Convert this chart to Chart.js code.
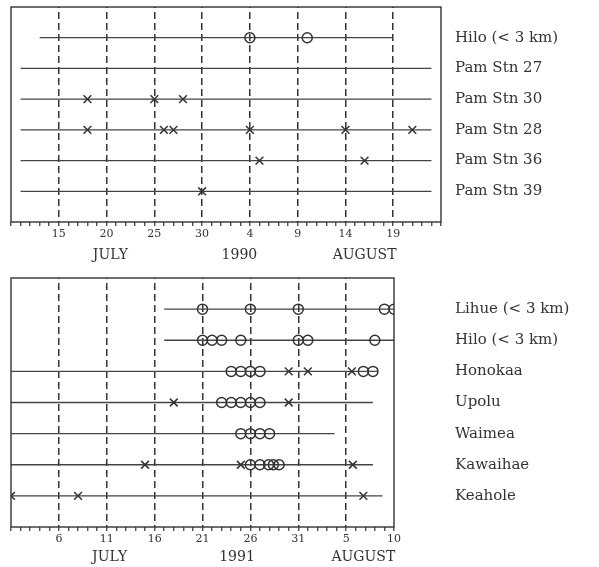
<!DOCTYPE html>
<html>
<head>
<meta charset="utf-8">
<script src="https://cdn.jsdelivr.net/npm/chart.js@4.4.1/dist/chart.umd.min.js"></script>
<style>
  body { margin: 0; background: #fff; }
  .panel { position: absolute; left: 0; width: 599px; }
  #top { top: 0; height: 270px; }
  #bot { top: 270px; height: 297px; }
</style>
</head>
<body>
<div class="panel" id="top"><canvas id="c1"></canvas></div>
<div class="panel" id="bot"><canvas id="c2"></canvas></div>
<script>
// days are counted from July 1 = 1 (so August 1 = 32)
var stations1990 = ['Hilo (< 3 km)', 'Pam Stn 27', 'Pam Stn 30', 'Pam Stn 28', 'Pam Stn 36', 'Pam Stn 39'];
var spans1990 = [[13, 50], [11, 54], [11, 54], [11, 54], [11, 54], [11, 54]];
var circles1990 = [[35, 41], [], [], [], [], []];
var crosses1990 = [[], [], [18, 25, 28], [18, 26, 27, 35, 45, 52], [36, 47], [30]];
var months1990 = ['JULY', '1990', 'AUGUST'];

var stations1991 = ['Lihue (< 3 km)', 'Hilo (< 3 km)', 'Honokaa', 'Upolu', 'Waimea', 'Kawaihae', 'Keahole'];
var spans1991 = [[17, 41], [17, 41], [1, 39.3], [1, 38.8], [1, 34.8], [1, 38.8], [1, 39.8]];
var circles1991 = [[21, 26, 31, 40, 41], [21, 22, 23, 25, 31, 32, 39], [24, 25, 26, 27, 37.8, 38.8],
                   [23, 24, 25, 26, 27], [25, 26, 27, 28], [26, 27, 27.9, 28.4, 29], []];
var crosses1991 = [[], [], [30, 32, 36.6], [18, 30], [], [15, 25, 36.7], [1, 8, 37.8]];
var months1991 = ['JULY', '1991', 'AUGUST'];

var ink = '#333333';
var serif = '"DejaVu Serif", "Liberation Serif", serif';

function dayOfMonth(v) {
  return v > 31 ? v - 31 : v;
}

function points(rows) {
  var out = [];
  rows.forEach(function (days, i) {
    days.forEach(function (d) { out.push({x: d, y: i + 1}); });
  });
  return out;
}

// box around the plot + month / year captions under the axis
var framePlugin = {
  id: 'frame',
  afterDraw: function (chart, args, opts) {
    var a = chart.chartArea, ctx = chart.ctx, xs = chart.scales.x;
    ctx.save();
    ctx.strokeStyle = ink;
    ctx.lineWidth = 1.4;
    ctx.strokeRect(a.left, a.top, a.right - a.left, a.bottom - a.top);
    ctx.fillStyle = ink;
    ctx.font = '14px ' + serif;
    ctx.textAlign = 'center';
    ctx.textBaseline = 'middle';
    opts.labels.forEach(function (t, i) {
      ctx.fillText(t, xs.getPixelForValue(opts.at[i]), a.bottom + opts.dy);
    });
    ctx.restore();
  }
};

function makeChart(id, cfg) {
  var datasets = [
    {
      data: points(cfg.circles),
      pointStyle: 'circle',
      pointRadius: 5,
      pointBorderWidth: 1.5,
      borderColor: ink,
      backgroundColor: 'rgba(0,0,0,0)',
      showLine: false
    },
    {
      data: points(cfg.crosses),
      pointStyle: 'crossRot',
      pointRadius: 5.5,
      pointBorderWidth: 1.5,
      borderColor: ink,
      showLine: false
    }
  ];
  cfg.spans.forEach(function (s, i) {
    datasets.push({
      data: [{x: s[0], y: i + 1}, {x: s[1], y: i + 1}],
      showLine: true,
      pointRadius: 0,
      borderColor: '#444444',
      borderWidth: 1.3
    });
  });

  return new Chart(document.getElementById(id), {
    type: 'scatter',
    data: {datasets: datasets},
    options: {
      responsive: true,
      maintainAspectRatio: false,
      animation: false,
      events: [],
      layout: {padding: {left: 11, top: cfg.top, right: 0, bottom: 0}},
      plugins: {
        legend: {display: false},
        tooltip: {enabled: false},
        frame: {labels: cfg.months, at: cfg.monthAt, dy: cfg.monthDy}
      },
      scales: {
        x: {
          type: 'linear',
          min: cfg.xMin,
          max: cfg.xMax,
          afterFit: function (s) {
            s.height = cfg.xHeight;
            s.paddingLeft = 0;
            s.paddingRight = 0;
          },
          afterBuildTicks: function (s) {
            s.ticks = [];
            for (var v = cfg.xMin; v <= cfg.xMax; v++) s.ticks.push({value: v});
          },
          ticks: {
            autoSkip: false,
            maxRotation: 0,
            padding: 2,
            color: ink,
            font: {family: serif, size: 11},
            callback: function (v) { return cfg.isLabel(v) ? String(dayOfMonth(v)) : ''; }
          },
          grid: {
            color: function (c) { return c.tick && cfg.isMajor(c.tick.value) ? ink : 'rgba(0,0,0,0)'; },
            lineWidth: 1.5,
            tickColor: ink,
            tickLength: 4,
            tickWidth: 1.2
          },
          border: {display: false, dash: [7, 4], dashOffset: -5}
        },
        y: {
          type: 'linear',
          position: 'right',
          reverse: true,
          min: 0,
          max: cfg.spans.length + 1,
          afterFit: function (s) {
            s.width = cfg.yWidth;
            s.paddingTop = 0;
            s.paddingBottom = 0;
          },
          afterBuildTicks: function (s) {
            s.ticks = cfg.names.map(function (n, i) { return {value: i + 1}; });
          },
          ticks: {
            padding: cfg.labelPad,
            color: ink,
            font: {family: serif, size: 15},
            callback: function (v) { return cfg.names[v - 1] || ''; }
          },
          grid: {display: false, drawTicks: false},
          border: {display: false}
        }
      }
    },
    plugins: [framePlugin]
  });
}

makeChart('c1', {
  names: stations1990, spans: spans1990, circles: circles1990, crosses: crosses1990,
  months: months1990, monthAt: [20.4, 33.9, 47], monthDy: 33,
  xMin: 10, xMax: 55, top: 7, xHeight: 48, yWidth: 158, labelPad: 14,
  isLabel: function (v) { return v % 5 === 0 && v >= 15 && v <= 50; },
  isMajor: function (v) { return v % 5 === 0 && v > 10 && v < 55; }
});

makeChart('c2', {
  names: stations1991, spans: spans1991, circles: circles1991, crosses: crosses1991,
  months: months1991, monthAt: [11.3, 24.6, 37.8], monthDy: 30,
  xMin: 1, xMax: 41, top: 8, xHeight: 40, yWidth: 205, labelPad: 61,
  isLabel: function (v) { return (v - 1) % 5 === 0 && v > 1; },
  isMajor: function (v) { return (v - 1) % 5 === 0 && v > 1 && v < 41; }
});
</script>
</body>
</html>
